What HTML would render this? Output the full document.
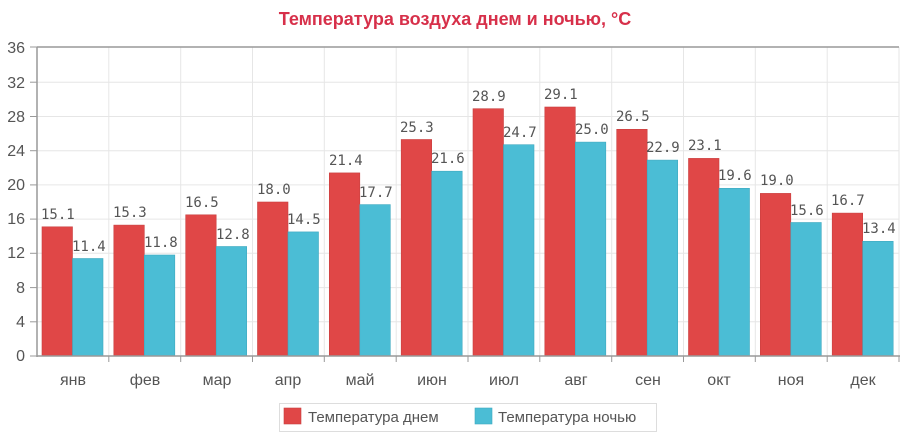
<!DOCTYPE html>
<html><head><meta charset="utf-8"><style>
html,body{margin:0;padding:0;background:#fff;}
svg text{font-family:"Liberation Sans",sans-serif;}
svg .v text{font-family:"DejaVu Sans Mono","Liberation Mono",monospace;font-size:14px;fill:#555;}
svg .ax text{font-size:16px;fill:#555;}
.r{fill:#e04747;stroke:#c94040;stroke-width:0.6}
.b{fill:#4bbdd5;stroke:#3fa9c0;stroke-width:0.6}
</style></head><body>
<svg width="910" height="442" xmlns="http://www.w3.org/2000/svg">
<text x="455" y="25" text-anchor="middle" style="font-size:18px;font-weight:bold;fill:#d7304a">Температура воздуха днем и ночью, °C</text>
<g stroke="#e6e6e6" stroke-width="1">
<line x1="37" x2="899" y1="321.8" y2="321.8"/><line x1="37" x2="899" y1="287.6" y2="287.6"/>
<line x1="37" x2="899" y1="253.3" y2="253.3"/><line x1="37" x2="899" y1="219.1" y2="219.1"/>
<line x1="37" x2="899" y1="184.9" y2="184.9"/><line x1="37" x2="899" y1="150.7" y2="150.7"/>
<line x1="37" x2="899" y1="116.5" y2="116.5"/><line x1="37" x2="899" y1="82.2" y2="82.2"/>
<line x1="108.8" x2="108.8" y1="47" y2="356"/><line x1="180.7" x2="180.7" y1="47" y2="356"/>
<line x1="252.5" x2="252.5" y1="47" y2="356"/><line x1="324.3" x2="324.3" y1="47" y2="356"/>
<line x1="396.2" x2="396.2" y1="47" y2="356"/><line x1="468" x2="468" y1="47" y2="356"/>
<line x1="539.8" x2="539.8" y1="47" y2="356"/><line x1="611.7" x2="611.7" y1="47" y2="356"/>
<line x1="683.5" x2="683.5" y1="47" y2="356"/><line x1="755.3" x2="755.3" y1="47" y2="356"/>
<line x1="827.2" x2="827.2" y1="47" y2="356"/><line x1="899" x2="899" y1="47" y2="356"/>
</g>
<line x1="37" x2="899" y1="47" y2="47" stroke="#999" stroke-width="1.5"/>
<g>
<rect class="r" x="42" y="226.8" width="30.5" height="129.2"/><rect class="b" x="72.5" y="258.5" width="30.5" height="97.5"/>
<rect class="r" x="113.8" y="225.1" width="30.5" height="130.9"/><rect class="b" x="144.3" y="255" width="30.5" height="101"/>
<rect class="r" x="185.7" y="214.8" width="30.5" height="141.2"/><rect class="b" x="216.2" y="246.5" width="30.5" height="109.5"/>
<rect class="r" x="257.5" y="202" width="30.5" height="154"/><rect class="b" x="288" y="231.9" width="30.5" height="124.1"/>
<rect class="r" x="329.3" y="172.9" width="30.5" height="183.1"/><rect class="b" x="359.8" y="204.6" width="30.5" height="151.4"/>
<rect class="r" x="401.2" y="139.5" width="30.5" height="216.5"/><rect class="b" x="431.7" y="171.2" width="30.5" height="184.8"/>
<rect class="r" x="473" y="108.7" width="30.5" height="247.3"/><rect class="b" x="503.5" y="144.7" width="30.5" height="211.3"/>
<rect class="r" x="544.8" y="107" width="30.5" height="249"/><rect class="b" x="575.3" y="142.1" width="30.5" height="213.9"/>
<rect class="r" x="616.7" y="129.3" width="30.5" height="226.7"/><rect class="b" x="647.2" y="160.1" width="30.5" height="195.9"/>
<rect class="r" x="688.5" y="158.4" width="30.5" height="197.6"/><rect class="b" x="719" y="188.3" width="30.5" height="167.7"/>
<rect class="r" x="760.3" y="193.4" width="30.5" height="162.6"/><rect class="b" x="790.8" y="222.5" width="30.5" height="133.5"/>
<rect class="r" x="832.2" y="213.1" width="30.5" height="142.9"/><rect class="b" x="862.7" y="241.3" width="30.5" height="114.7"/>
</g>
<g class="v">
<text x="41" y="219">15.1</text><text x="72" y="251">11.4</text>
<text x="113" y="217">15.3</text><text x="144" y="247">11.8</text>
<text x="185" y="207">16.5</text><text x="216" y="239">12.8</text>
<text x="257" y="194">18.0</text><text x="287" y="224">14.5</text>
<text x="329" y="165">21.4</text><text x="359" y="197">17.7</text>
<text x="400" y="132">25.3</text><text x="431" y="163">21.6</text>
<text x="472" y="101">28.9</text><text x="503" y="137">24.7</text>
<text x="544" y="99">29.1</text><text x="575" y="134">25.0</text>
<text x="616" y="121">26.5</text><text x="646" y="152">22.9</text>
<text x="688" y="150">23.1</text><text x="718" y="180">19.6</text>
<text x="760" y="185">19.0</text><text x="790" y="215">15.6</text>
<text x="831" y="205">16.7</text><text x="862" y="233">13.4</text>
</g>
<line x1="37" x2="37" y1="47" y2="357" stroke="#999" stroke-width="1.5"/>
<line x1="37" x2="900" y1="356" y2="356" stroke="#999" stroke-width="1.5"/>
<g stroke="#999" stroke-width="1">
<line x1="30" x2="37" y1="356" y2="356"/><line x1="30" x2="37" y1="321.8" y2="321.8"/><line x1="30" x2="37" y1="287.6" y2="287.6"/><line x1="30" x2="37" y1="253.3" y2="253.3"/><line x1="30" x2="37" y1="219.1" y2="219.1"/><line x1="30" x2="37" y1="184.9" y2="184.9"/><line x1="30" x2="37" y1="150.7" y2="150.7"/><line x1="30" x2="37" y1="116.5" y2="116.5"/><line x1="30" x2="37" y1="82.2" y2="82.2"/><line x1="30" x2="37" y1="47" y2="47"/>
<line x1="108.8" x2="108.8" y1="356" y2="362"/><line x1="180.7" x2="180.7" y1="356" y2="362"/><line x1="252.5" x2="252.5" y1="356" y2="362"/><line x1="324.3" x2="324.3" y1="356" y2="362"/><line x1="396.2" x2="396.2" y1="356" y2="362"/><line x1="468" x2="468" y1="356" y2="362"/><line x1="539.8" x2="539.8" y1="356" y2="362"/><line x1="611.7" x2="611.7" y1="356" y2="362"/><line x1="683.5" x2="683.5" y1="356" y2="362"/><line x1="755.3" x2="755.3" y1="356" y2="362"/><line x1="827.2" x2="827.2" y1="356" y2="362"/><line x1="899" x2="899" y1="356" y2="362"/>
</g>
<g class="ax" text-anchor="end">
<text x="25" y="361">0</text><text x="25" y="327">4</text><text x="25" y="293">8</text><text x="25" y="258">12</text><text x="25" y="224">16</text><text x="25" y="190">20</text><text x="25" y="156">24</text><text x="25" y="122">28</text><text x="25" y="88">32</text><text x="25" y="53">36</text>
</g>
<g class="ax" text-anchor="middle">
<text x="73" y="385">янв</text><text x="145" y="385">фев</text><text x="217" y="385">мар</text><text x="288" y="385">апр</text><text x="360" y="385">май</text><text x="432" y="385">июн</text><text x="504" y="385">июл</text><text x="576" y="385">авг</text><text x="648" y="385">сен</text><text x="719" y="385">окт</text><text x="791" y="385">ноя</text><text x="863" y="385">дек</text>
</g>
<rect x="279.5" y="403.5" width="377" height="28" fill="#fff" stroke="#ddd"/>
<rect x="284" y="408" width="17" height="16" class="r"/>
<text x="308" y="422" style="font-size:15px;fill:#555">Температура днем</text>
<rect x="475" y="408" width="17" height="16" class="b"/>
<text x="498" y="422" style="font-size:15px;fill:#555">Температура ночью</text>
</svg>
</body></html>
